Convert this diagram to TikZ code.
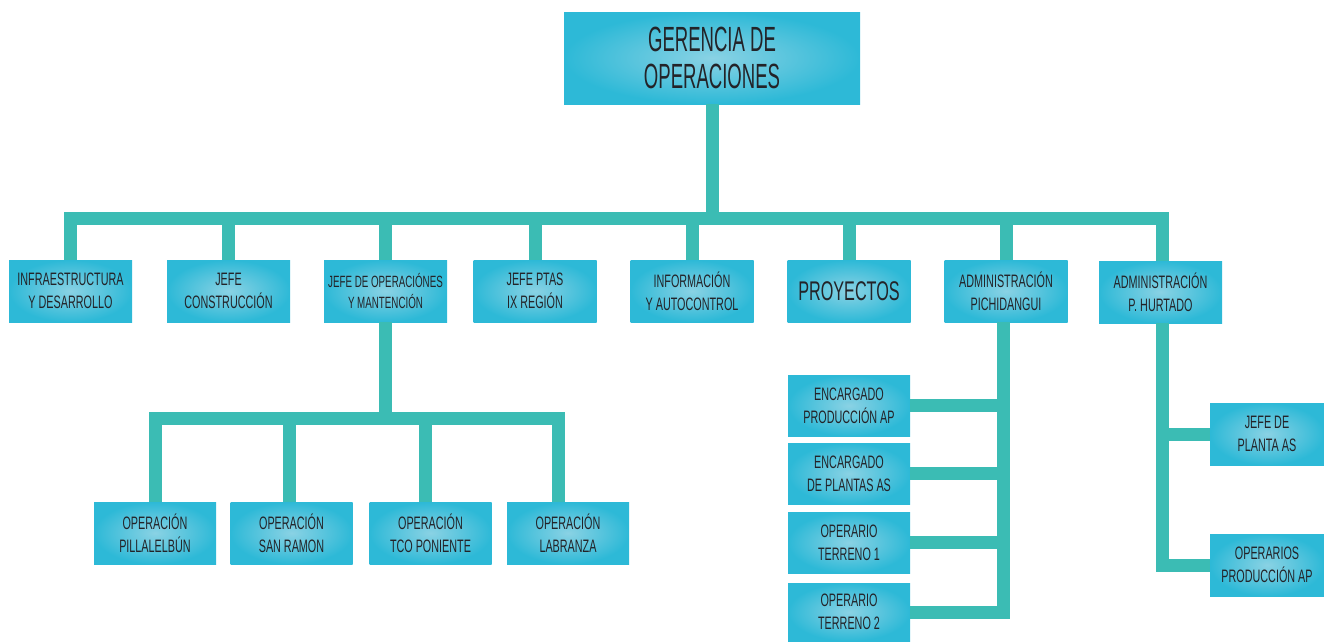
\documentclass[tikz,border=0pt]{standalone}
\usepackage{fontspec}
\setmainfont{Liberation Sans}[FakeStretch=0.6]
\newfontfamily\topfont{Liberation Sans}[FakeStretch=0.53]
\definecolor{boxin}{RGB}{138,210,228}
\definecolor{boxout}{RGB}{45,185,215}
\definecolor{linkc}{RGB}{59,188,180}
\definecolor{txt}{RGB}{35,35,40}
\begin{document}
\begin{tikzpicture}[x=1pt,y=-1pt,
  box/.style={rectangle, inner sep=0pt, minimum width=123pt, minimum height=62pt,
    inner color=boxin, outer color=boxout, text=txt, align=center,
    font=\fontsize{18}{22.6}\selectfont},
  link/.style={draw=linkc, line width=13pt}]
\useasboundingbox (0,0) rectangle (1324,641);

% top
\node[box, minimum width=296pt, minimum height=92pt,
  font=\topfont\fontsize{35}{37}\selectfont] (top) at (712,58) {GERENCIA DE\\OPERACIONES};

% level 1
\node[box] (b1) at (70.5,291) {INFRAESTRUCTURA\\Y DESARROLLO};
\node[box] (b2) at (228.5,291) {JEFE\\CONSTRUCCIÓN};
\node[box, font=\fontsize{16.3}{20.5}\selectfont] (b3) at (385.5,291) {JEFE DE OPERACIÓNES\\Y MANTENCIÓN};
\node[box] (b4) at (535,291) {JEFE PTAS\\IX REGIÓN};
\node[box] (b5) at (692,291) {INFORMACIÓN\\Y AUTOCONTROL};
\node[box, font=\fontsize{27}{30}\selectfont] (b6) at (849,291) {PROYECTOS};
\node[box] (b7) at (1006,291) {ADMINISTRACIÓN\\PICHIDANGUI};
\node[box] (b8) at (1160.5,292) {ADMINISTRACIÓN\\P. HURTADO};

% level 2 under b3
\node[box, minimum width=122pt] (o1) at (155,533) {OPERACIÓN\\PILLALELBÚN};
\node[box, minimum width=122pt] (o2) at (291.5,533) {OPERACIÓN\\SAN RAMON};
\node[box, minimum width=122pt] (o3) at (430.5,533) {OPERACIÓN\\TCO PONIENTE};
\node[box, minimum width=122pt] (o4) at (568,533) {OPERACIÓN\\LABRANZA};

% under b7
\node[box, minimum width=122pt, minimum height=61pt] (e1) at (849,405.5) {ENCARGADO\\PRODUCCIÓN AP};
\node[box, minimum width=122pt, minimum height=61pt] (e2) at (849,473.5) {ENCARGADO\\DE PLANTAS AS};
\node[box, minimum width=122pt, minimum height=61pt] (e3) at (849,542.5) {OPERARIO\\TERRENO 1};
\node[box, minimum width=122pt, minimum height=58pt] (e4) at (849,612) {OPERARIO\\TERRENO 2};

% under b8
\node[box, minimum width=114pt] (h1) at (1267,434) {JEFE DE\\PLANTA AS};
\node[box, minimum width=114pt] (h2) at (1267,565) {OPERARIOS\\PRODUCCIÓN AP};

% connectors level 1
\coordinate (hub1) at (712,218.5);
\draw[link] (top.south) -- (hub1);
\foreach \n in {b1,b2,b3,b4,b5,b6,b7}
  \draw[link] (hub1) -| (\n.north);
\draw[link] (hub1) -| ([xshift=2pt]b8.north);

% connectors level 2
\coordinate (hub2) at (385.5,418.5);
\draw[link] (b3.south) -- (hub2);
\draw[link] (hub2) -| (o1.north);
\draw[link] (hub2) -| ([xshift=-2pt]o2.north);
\draw[link] (hub2) -| ([xshift=-5.5pt]o3.north);
\draw[link] (hub2) -| ([xshift=-10pt]o4.north);

% Pichidangui
\coordinate (s7) at ([xshift=-2.5pt]b7.south);
\draw[link] (s7) |- (e4.east);
\foreach \e in {e1,e2,e3}
  \draw[link] (\e.east) -- (\e.east -| s7);

% Hurtado
\coordinate (s8) at ([xshift=2pt]b8.south);
\draw[link] (s8) |- (h2.west);
\draw[link] (h1.west) -- (h1.west -| s8);
\end{tikzpicture}
\end{document}
